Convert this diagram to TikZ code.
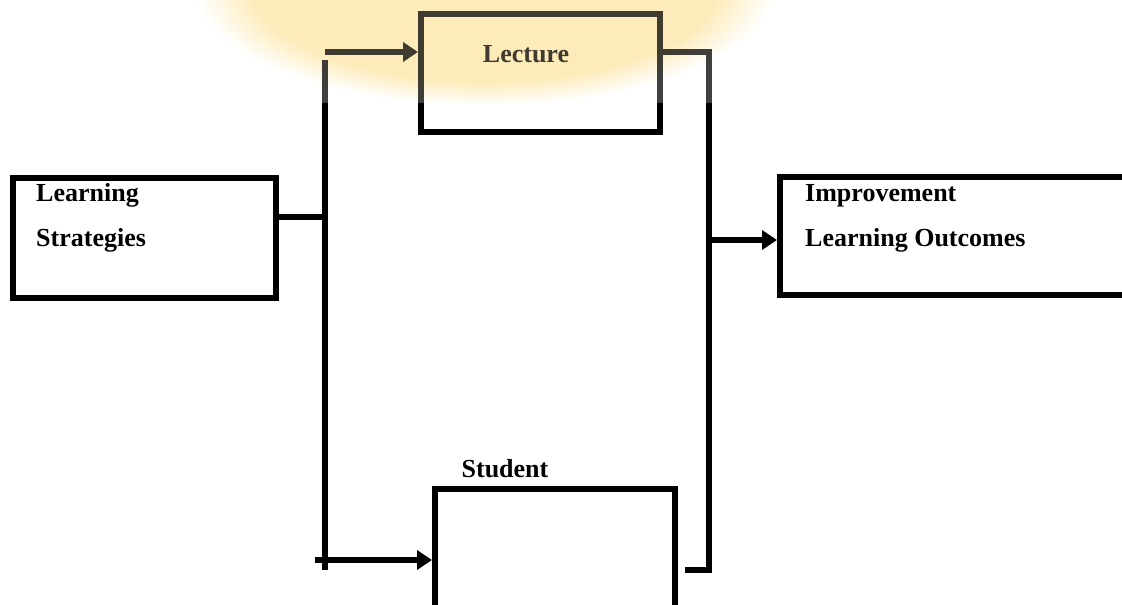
\documentclass[tikz,border=0pt]{standalone}
\usepackage{fontspec}
\setmainfont{Liberation Serif}
\usepackage{xcolor}
\usetikzlibrary{arrows.meta,fadings}
\definecolor{glow}{RGB}{253,236,186}

\begin{document}
\begin{tikzpicture}[x=1pt,y=-1pt,
    box/.style={draw, line width=6pt, inner sep=0pt},
    lbl/.style={font=\fontsize{26}{30}\selectfont\bfseries, inner sep=0pt},
    line/.style={line width=6pt},
    arr/.style={line width=6pt, -{Triangle[length=15pt,width=19pt]}}]
                \useasboundingbox (0,0) rectangle (1122,605);
                \clip (0,0) rectangle (1122,605);
                % boxes
                \node[box, minimum width=263pt, minimum height=120pt] (strat) at (144.5,238) {};
                \node[box, minimum width=239pt, minimum height=118pt] (lect) at (540.5,73) {};
                \node[box, minimum width=360pt, minimum height=118pt] (impr) at (960,236) {};
                \node[box, minimum width=240pt, minimum height=151pt] (stud) at (555,564.5) {};
                \node[lbl, anchor=base west] (strat-a) at (36,201) {Learning};
                \node[lbl, anchor=base west] (strat-b) at (36,246) {Strategies};
                \node[lbl, anchor=base] (lect-t) at (526,62) {Lecture};
                \node[lbl, anchor=base west] (impr-a) at (805,201) {Improvement};
                \node[lbl, anchor=base west] (impr-b) at (805,246) {Learning Outcomes};
                \node[lbl, anchor=base] (stud-t) at (505,477) {Student};
                % connectors
                \coordinate (split) at (325,217);
                \coordinate (vtop) at (325,60);
                \coordinate (vbot) at (325,570);
                \coordinate (ltail) at (325,52);
                \coordinate (stail) at (315,560);
                \coordinate (jtop) at (709,52);
                \coordinate (jmid) at (709,240);
                \coordinate (jbot) at (709,570);
                \coordinate (sout) at (685,570);
                \draw[line] (strat.east |- split) -- (split);
                \draw[line] (vtop) -- (vbot);
                \draw[arr] (ltail) -- (lect.west |- ltail);
                \draw[arr] (stail) -- (stud.west |- stail);
                \draw[line] (lect.east |- jtop) -- (jtop) -- (jbot) -- (sout);
                \draw[arr] (jmid) -- (impr.west |- jmid);
                % faded band on top
                \fill[white, opacity=0.25] (150,0) rectangle (882,103);
                \begin{scope}[blend mode=multiply]
                \clip (150,0) rectangle (882,103);
                \fill[glow, path fading=circle with fuzzy edge 20 percent] (485,-15) ellipse [x radius=290, y radius=120];
                \end{scope}
            \end{tikzpicture}
\end{document}
